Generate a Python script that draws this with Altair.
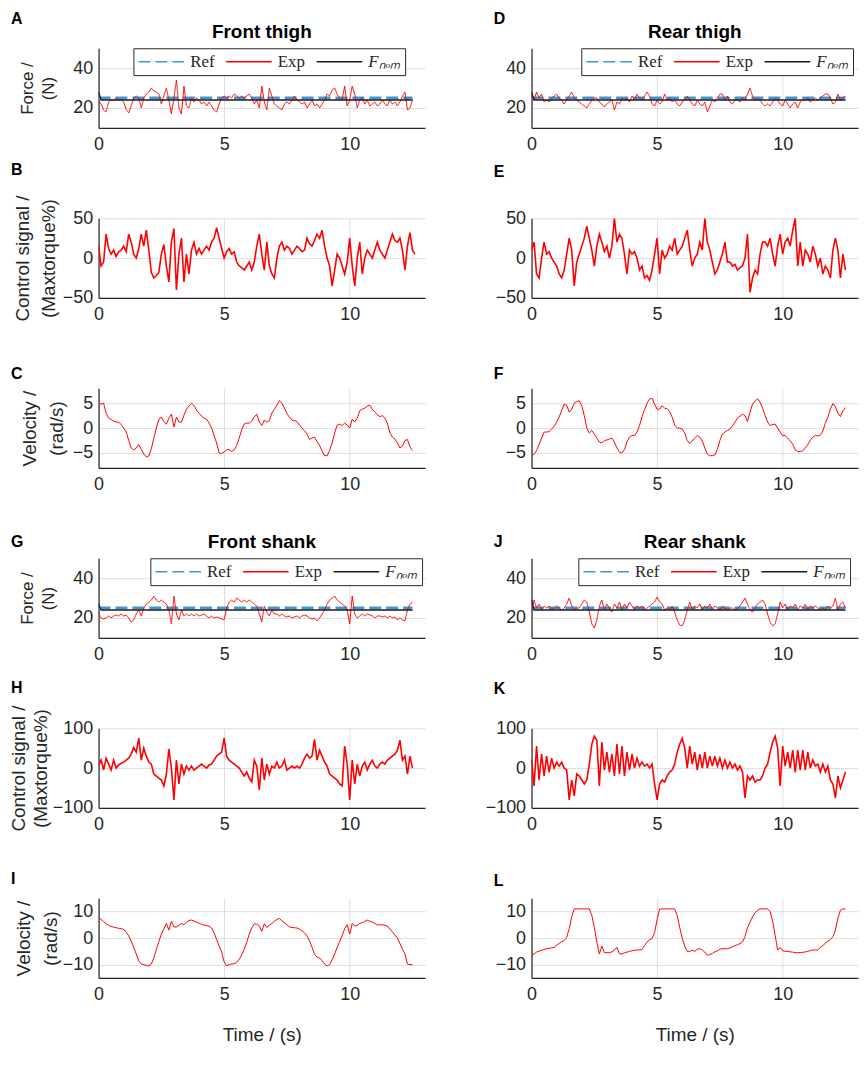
import altair as alt
import pandas as pd

DT = 0.1
XTICKS = [0, 5, 10]
FNOM = "F\u2099\u2092\u2098"
SERIES = ["Ref", "Exp", FNOM]
RED = "#ff0000"
BLUE = "#3f97d8"
BLACK = "#1a1a1a"
INK = "#262626"

A_EXP = [24, 22, 19, 18, 23, 24, 24, 25, 24, 24,
         23, 19, 17.5, 21, 25, 26, 25, 20, 25, 27,
         28, 30, 28.5, 28, 27, 22, 26, 30, 24, 17,
         25, 34, 20, 17, 31, 21, 20, 25, 23, 25,
         24, 22, 23, 21, 23, 21, 19, 18, 22, 25,
         26, 25, 26, 25, 27, 26, 25, 26, 25, 26,
         27, 25, 22, 24, 20, 31, 23, 19, 30, 26,
         22, 21, 20, 19, 22, 23, 22, 24, 26, 24,
         23, 22, 23, 20, 22, 24, 21, 22, 20, 22,
         24, 27, 26, 29, 30, 27, 25, 24, 31, 21,
         24, 31, 27, 20, 24, 25, 22, 24, 21, 22,
         23, 21, 22, 24, 22, 21, 24, 22, 23, 21,
         23, 26, 28, 19, 20, 24]

B_CTRL = [15, -10, -5, 30, 12, 5, 10, 2, 8, 10,
          15, 8, 30, 20, 5, 0, 12, 30, 15, 35,
          10, -18, -25, -22, -18, 5, 17, -10, -30, 20,
          37, -40, 5, 25, -30, 5, -20, 10, 20, 5,
          12, 5, 10, 15, 10, 20, 25, 38, 25, 12,
          0, 8, 12, 5, 8, -5, -10, -12, -15, -10,
          -5, -15, -5, 15, 30, 5, -15, 20, -10, -20,
          -25, 0, 15, 20, 10, 15, 12, 5, 10, 15,
          12, 8, 10, 25, 18, 15, 22, 30, 25, 35,
          15, 0, -10, -35, -15, 5, 0, -10, -20, -5,
          25, -10, -35, 0, 20, -20, 0, 10, 5, 0,
          10, 20, 10, 5, 0, 10, 20, 30, 22, 20,
          25, 10, -15, 15, 32, 10, 5]

C_VEL = [5.0, 4.8, 5.0, 3.0, 2.0, 1.7, 1.4, 1.2, 1.2, 0.7,
         0.0, -0.8, -2.5, -4.0, -4.4, -4.0, -3.3, -4.3, -5.2, -5.8,
         -5.6, -4.2, -2.0, 0.0, 1.8, 2.2, 1.3, 0.8, 2.0, 2.8,
         0.2, 2.2, 1.2, 1.2, 2.6, 3.8, 4.4, 5.0, 4.5, 3.6,
         3.0, 2.4, 2.0, 1.8, 1.0, 0.0, -1.5, -3.0, -5.0, -5.1,
         -4.8, -4.4, -4.3, -4.7, -4.4, -3.5, -2.0, -0.3, 0.8, 1.0,
         1.0, 1.4, 2.2, 2.8, 1.2, 0.5, 1.6, 1.2, 1.5, 3.0,
         3.8, 4.6, 5.5, 5.0, 4.0, 2.9, 2.2, 1.6, 1.5, 1.3,
         0.6, 0.0, -0.5, -1.2, -2.3, -2.0, -1.8, -2.7, -3.5, -4.6,
         -5.5, -5.6, -4.5, -3.0, -1.0, 0.6, 0.8, 0.5, 1.0, 0.6,
         0.0, 1.8, 1.2, 2.0, 3.5, 3.8, 4.0, 4.4, 4.6, 3.8,
         3.2, 2.7, 2.3, 2.5, 2.0, 1.0, -1.0, -1.8, -2.2, -3.0,
         -4.0, -3.6, -2.5, -2.3, -3.8, -4.5]

D_EXP = [26, 24, 28, 25, 27, 23, 24, 23, 25, 26,
         27, 25, 24, 22, 24, 26, 28, 25, 24, 23,
         22, 21, 20, 22, 24, 25, 25, 23, 22, 20.5,
         22, 23, 24, 19, 23, 22, 25, 24, 25, 23,
         26, 24, 27, 25, 24, 26, 28, 26, 22, 21,
         24, 22, 23, 27, 24, 25, 23, 24, 22, 21,
         23, 24, 26, 24, 22, 21, 24, 22, 21, 23,
         18, 21, 24, 23, 25, 27, 27, 24, 26, 23,
         22, 24, 24, 23, 25, 24, 27, 30, 26, 24,
         25, 24, 22, 21, 22, 21, 23, 25, 24, 22,
         21, 24, 22, 20, 22, 23, 20, 23, 24, 24,
         25, 23, 24, 25, 24, 25, 26, 27, 27, 25,
         22, 23, 27, 24, 25, 26]

E_CTRL = [10, 20, -20, -25, 0, 20, 5, 8, 0, -5,
          -10, -20, -25, -15, 5, 25, 10, -35, -5, 5,
          15, 25, 40, 25, 10, -10, 15, 30, 20, 8,
          15, 0, 15, 50, 20, 30, 25, 5, -20, 10,
          5, 8, 0, -15, -10, -25, -22, -28, -15, 5,
          25, -20, 10, 0, 5, 15, 10, 25, 5, 10,
          15, 25, 35, 10, -10, 0, 5, 20, 10, 50,
          20, 10, -5, -20, -15, -5, 5, 20, -5, -5,
          -10, -8, -15, -12, -10, 0, 30, -43, -25, -15,
          -20, 5, 20, 20, 15, 25, 5, -10, 15, 30,
          5, 20, 25, 15, 35, 50, -10, 20, -10, 10,
          5, -5, 15, 5, -10, 0, -20, -10, -15, -25,
          10, 25, 10, -25, 5, -15]

F_VEL = [-5.5, -5.3, -4.5, -3.3, -2.0, -0.8, -0.8, -0.7, -0.2, 0.3,
         1.2, 2.2, 3.5, 4.8, 4.6, 3.2, 3.8, 5.0, 5.3, 5.5,
         4.5, 2.5, 0.0, -1.0, -0.5, -1.2, -2.0, -2.8, -3.0, -2.5,
         -2.4, -2.2, -2.0, -2.8, -4.0, -4.8, -5.0, -4.3, -2.8, -1.8,
         -1.5, -1.5, -0.8, 0.5, 2.3, 3.7, 5.0, 5.8, 6.0, 4.8,
         3.8, 3.8, 4.5, 4.0, 3.9, 3.3, 2.2, 0.6, 0.0, 0.0,
         -0.2, -1.0, -2.5, -3.1, -2.6, -2.0, -1.5, -1.8, -2.6, -4.0,
         -5.2, -5.6, -5.5, -5.4, -4.3, -2.5, -1.2, -0.8, -0.5, -0.2,
         0.4, 1.2, 2.0, 2.4, 2.8, 2.5, 1.3, 3.2, 4.8, 5.4,
         5.9, 5.2, 4.0, 2.5, 1.2, 0.5, 0.7, 0.8, 0.0, -0.8,
         -1.5, -1.5, -2.0, -2.6, -3.2, -4.4, -4.7, -4.7, -4.6, -4.0,
         -3.3, -2.5, -1.8, -1.5, -1.6, -1.4, -0.6, 1.0, 2.2, 3.8,
         4.9, 4.3, 3.0, 2.3, 3.5, 4.1]

G_EXP = [22, 20, 19.5, 20, 21, 20, 21, 21.5, 21, 22,
         21, 21.5, 20, 18, 19, 22, 24, 21, 25, 27,
         28, 29, 31, 29, 28, 29, 28, 27, 24, 17,
         31, 22, 19, 24, 21, 22, 21, 22, 21, 22,
         21, 21.5, 22, 21, 20, 21, 20, 20.5, 20, 19.5,
         19, 25, 28, 29, 28, 30, 29, 28, 29, 28,
         29, 28, 27, 26, 22, 18, 26, 23, 21, 24,
         22, 22, 21, 22, 21, 20.5, 21, 20, 20.5, 21,
         20, 21, 21.5, 21, 20, 19.5, 20, 18.5, 20, 22,
         24, 27, 29, 30, 31, 29, 28, 27, 26, 24,
         17, 31, 22, 20, 21, 22, 21, 22, 21.5, 21,
         20, 21, 21, 20.5, 21, 20, 21, 20, 20.5, 19,
         20, 19, 18.5, 24, 27, 28]

H_CTRL = [5, 20, -5, 25, 10, -5, 20, 0, 8, 12,
          15, 20, 25, 35, 52, 40, 75, 20, 50, 30,
          15, 10, -15, -20, -25, -30, -45, -15, 48, 0,
          -80, 20, -40, 10, -15, 5, -5, 5, -5, 0,
          5, 10, 5, 0, 8, 10, 20, 30, 35, 40,
          75, 30, 20, 15, 10, 5, 0, -10, -20, -10,
          -25, -35, 20, 5, -55, 25, -30, 10, -15, 5,
          0, 15, 0, 5, 20, -5, 0, 5, 0, 5,
          0, 10, 25, 35, 25, 30, 72, 20, 45, 30,
          15, 5, -15, -20, -25, -30, -40, -45, 55, 10,
          -80, 20, -40, 10, -20, 5, 15, -5, 10, 20,
          5, 0, 10, 15, 10, 20, 25, 30, 35, 45,
          70, 20, 30, -15, 30, 0]

I_VEL = [7.5, 7.0, 6.2, 5.4, 4.8, 4.4, 4.1, 3.9, 3.7, 3.5,
         3.3, 2.2, 0.8, -1.2, -3.5, -6.0, -8.6, -9.8, -10.0, -10.3,
         -10.5, -9.8, -7.5, -4.3, -1.3, 1.5, 3.5, 5.5, 3.0, 6.3,
         4.2, 4.2, 4.8, 5.5, 5.0, 6.0, 6.6, 6.8, 6.4, 6.0,
         5.6, 5.2, 4.9, 4.7, 4.5, 3.8, 2.0, -0.5, -3.0, -5.2,
         -9.0, -10.5, -10.0, -9.8, -9.6, -9.2, -8.0, -6.3, -4.2, -1.5,
         1.5, 3.8, 5.4, 5.2, 4.6, 2.5, 5.4, 4.0, 4.8, 5.5,
         6.3, 7.0, 7.4, 6.5, 5.8, 5.0, 4.2, 4.0, 3.9, 3.8,
         3.4, 2.8, 2.0, 0.8, -1.0, -3.5, -6.0, -7.2, -7.5, -8.5,
         -9.8, -10.5, -10.0, -8.2, -6.0, -3.5, -1.3, 1.0, 3.5, 5.0,
         1.5, 5.5, 4.5, 4.8, 5.5, 5.8, 6.2, 6.8, 6.3, 6.0,
         5.5, 5.0, 5.0, 5.0, 4.8, 4.5, 3.4, 2.3, 1.2, 0.0,
         -2.0, -4.2, -6.0, -9.8, -10.0, -10.0]

J_EXP = [23, 29, 25, 27, 24, 26, 25, 26, 24, 25,
         26, 25, 24, 25, 27, 30, 26, 24, 25, 25,
         27, 29, 28, 23, 17, 15, 19, 26, 29, 24,
         27, 25, 23, 27, 25, 28, 24, 27, 25, 28,
         26, 24, 26, 25, 26, 24, 25, 26, 27, 28,
         30.5, 28, 27, 24, 25, 24, 26, 23, 19, 16.5,
         16, 19, 24, 28, 24, 26, 25, 27, 24, 26,
         25, 27, 24, 26, 25, 24, 26, 25, 24, 25,
         25, 24, 25, 26, 28, 30, 27, 24, 23, 25,
         27, 28, 29, 27, 22, 18, 16, 17, 22, 28,
         25, 27, 24, 26, 25, 27, 24, 26, 25, 27,
         24, 26, 25, 26, 25, 24, 25, 24, 26, 25,
         26, 30, 24, 27, 28, 25]

K_CTRL = [20, -45, 55, -30, 35, -20, 30, -10, 25, 0,
          15, 5, 15, 0, -5, -80, -30, -70, -15, -20,
          -30, -40, -30, 10, 60, 80, 70, -45, 65, -5,
          40, -10, 35, -20, 60, -15, 55, -20, 40, -5,
          35, 0, 25, 5, 15, 5, 10, 0, 10, -40,
          -80, -40, -30, -35, -20, -10, -5, 10, 40, 60,
          75, 50, 0, 55, 10, 40, -5, 35, 0, 40,
          0, 30, 5, 30, 5, 25, 0, 20, 0, 15,
          0, 10, -5, 5, -10, -75, -20, -30, -20, -35,
          -30, -30, -20, 0, 10, 40, 65, 80, 50, -45,
          55, 5, 40, 0, 45, -10, 45, -5, 45, -5,
          40, 0, 20, 5, 10, -10, 10, -10, 5, -30,
          -40, -75, -20, -50, -30, -10]

L_VEL = [-6.5, -6.0, -5.3, -4.9, -4.6, -4.3, -4.0, -3.9, -3.7, -3.5,
         -2.7, -2.0, -1.4, -0.9, 0.3, 3.5, 8.0, 11, 11, 11,
         11, 11, 11, 11, 8.5, 4.0, -1.5, -6.0, -3.0, -5.5,
         -5.5, -5.5, -5.2, -4.5, -3.5, -6.0, -6.0, -5.6, -5.3, -5.0,
         -4.8, -4.6, -4.5, -4.5, -4.3, -2.8, -1.5, -0.6, -0.2, 2.0,
         7.0, 11, 11, 11, 11, 11, 11, 11, 8.5, 4.0,
         0.0, -3.0, -5.0, -5.0, -4.6, -5.0, -4.2, -4.0, -4.5, -5.3,
         -6.5, -6.2, -5.8, -5.2, -4.8, -4.2, -4.0, -4.0, -4.0, -3.7,
         -3.3, -2.9, -2.5, -2.1, -1.5, 0.5, 4.0, 6.0, 8.0, 9.5,
         10.5, 11, 11, 11, 11, 10.0, 6.5, 1.0, -4.5, -3.5,
         -4.8, -5.0, -5.0, -5.2, -5.3, -5.5, -5.5, -5.5, -5.4, -5.2,
         -5.0, -4.7, -4.5, -4.5, -4.4, -3.5, -2.8, -2.0, -1.2, -0.5,
         0.5, 3.0, 7.5, 10.5, 11, 11]

REF_T = [0.0, 12.5]
REF_V = [25, 25]
FNOM_T = [0.0, 0.1, 12.5]
A_FNOM = [28, 24, 24]
D_FNOM = [28, 24, 24]
G_FNOM = [27, 24, 24]
J_FNOM = [29, 24, 24]

FORCE_TITLE = ["Force /", "(N)"]
CTRL_TITLE = ["Control signal /", "(Maxtorque%)"]
VEL_TITLE = ["Velocity /", "(rad/s)"]

W, H = 328, 80


def times(vals):
    return [round(i * DT, 2) for i in range(len(vals))]


def panel(exp, ydom, yticks, letter, lx, ly, ytitle=None, tpad=10, tsize=17, tline=20,
          section=None, fnom=None, legend_x=0, xtitle=None, sw=1.0):
    frames = [pd.DataFrame({"t": times(exp), "v": exp, "series": "Exp"})]
    if fnom is not None:
        frames.append(pd.DataFrame({"t": REF_T, "v": REF_V, "series": "Ref"}))
        frames.append(pd.DataFrame({"t": FNOM_T, "v": fnom, "series": FNOM}))
    df = pd.concat(frames, ignore_index=True)

    x_axis = alt.Axis(values=XTICKS, labelFlush=False, grid=True, labelPadding=8,
                      title=xtitle, titleFontSize=19, titlePadding=22)
    y_axis = alt.Axis(values=yticks, labelFlush=False, grid=True, labelPadding=6,
                      title=ytitle, titlePadding=tpad, titleFontSize=tsize,
                      titleLineHeight=tline)
    x = alt.X("t:Q", scale=alt.Scale(domain=[0, 13], nice=False, zero=False), axis=x_axis)
    y = alt.Y("v:Q", scale=alt.Scale(domain=ydom, nice=False, zero=False), axis=y_axis)
    base = alt.Chart(df).encode(x=x, y=y)

    layers = []
    if fnom is not None:
        leg = alt.Legend(orient="none", legendX=legend_x, legendY=0, direction="horizontal",
                         title=None, symbolType="stroke", symbolSize=2100,
                         symbolStrokeWidth=1.5, clipHeight=19,
                         labelFont="Liberation Serif", labelFontSize=17, labelColor=INK,
                         labelFontStyle={"expr": "datum.index == 2 ? 'italic' : 'normal'"},
                         strokeColor=INK, fillColor="white", padding=4,
                         columnPadding=10, labelOffset=5, cornerRadius=0, labelLimit=300)
        color = alt.Color("series:N", scale=alt.Scale(domain=SERIES, range=[BLUE, RED, BLACK]),
                          legend=leg)
        dash = alt.StrokeDash("series:N",
                              scale=alt.Scale(domain=SERIES, range=[[12, 5], [1, 0], [1, 0]]),
                              legend=leg)
        layers.append(base.transform_filter(alt.datum.series == "Ref")
                      .mark_line(strokeWidth=3, clip=True).encode(color=color, strokeDash=dash))
        layers.append(base.transform_filter(alt.datum.series == "Exp")
                      .mark_line(strokeWidth=1, clip=True).encode(color=color, strokeDash=dash))
        layers.append(base.transform_filter(alt.datum.series == FNOM)
                      .mark_line(strokeWidth=1.3, clip=True).encode(color=color, strokeDash=dash))
    else:
        layers.append(base.mark_line(color=RED, strokeWidth=sw, clip=True))

    layers.append(
        alt.Chart(pd.DataFrame({"s": [letter]}))
        .mark_text(font="Liberation Sans", fontSize=16, fontWeight="bold", color="black",
                   align="left", baseline="alphabetic")
        .encode(text="s:N", x=alt.value(lx), y=alt.value(ly))
    )
    if section:
        layers.append(
            alt.Chart(pd.DataFrame({"s": [section]}))
            .mark_text(font="Liberation Sans", fontSize=19, fontWeight="bold", color="black",
                       align="center", baseline="alphabetic")
            .encode(text="s:N", x=alt.value(W / 2), y=alt.value(-10))
        )
    return alt.layer(*layers).properties(width=W, height=H)


LX_L, LX_R = -88, -38
pA = panel(A_EXP, [10, 50], [20, 40], "A", LX_L, -24, FORCE_TITLE, 15, 17, 21,
           "Front thigh", A_FNOM, 35)
pD = panel(D_EXP, [10, 50], [20, 40], "D", LX_R, -24, None, 10, 17, 21,
           "Rear thigh", D_FNOM, 50)
pB = panel(B_CTRL, [-50, 50], [-50, 0, 50], "B", LX_L, -43, CTRL_TITLE, 4, 19, 26, sw=1.6)
pE = panel(E_CTRL, [-50, 50], [-50, 0, 50], "E", LX_R, -41, None, 10, 19, 26, sw=1.6)
pC = panel(C_VEL, [-8, 8], [-5, 0, 5], "C", LX_L, -9, VEL_TITLE, 6, 19, 27)
pF = panel(F_VEL, [-8, 8], [-5, 0, 5], "F", LX_R, -9, None, 10, 19, 27)
pG = panel(G_EXP, [10, 50], [20, 40], "G", LX_L, -11, FORCE_TITLE, 15, 17, 21,
           "Front shank", G_FNOM, 52)
pJ = panel(J_EXP, [10, 50], [20, 40], "J", LX_R, -11, None, 10, 17, 21,
           "Rear shank", J_FNOM, 47)
pH = panel(H_CTRL, [-100, 100], [-100, 0, 100], "H", LX_L, -35, CTRL_TITLE, 2, 19, 22, sw=1.6)
pK = panel(K_CTRL, [-100, 100], [-100, 0, 100], "K", LX_R, -34, None, 10, 19, 22, sw=1.6)
pI = panel(I_VEL, [-15, 15], [-10, 0, 10], "I", LX_L, -14, VEL_TITLE, 2, 19, 27,
           xtitle="Time / (s)")
pL = panel(L_VEL, [-15, 15], [-10, 0, 10], "L", LX_R, -12, None, 10, 19, 27,
           xtitle="Time / (s)")

chart = (
    alt.concat(pA, pD, pB, pE, pC, pF, pG, pJ, pH, pK, pI, pL,
               columns=2, spacing={"row": 90.8, "column": 107}, bounds="flush")
    .resolve_scale(color="independent", strokeDash="independent")
    .resolve_legend(color="independent", strokeDash="independent")
    .properties(padding={"left": 0, "top": 0, "right": 0, "bottom": 0})
    .configure_view(stroke="transparent")
    .configure_axis(labelFont="Liberation Sans", labelFontSize=18, labelColor=INK,
                    titleFont="Liberation Sans", titleFontWeight="normal",
                    titleColor=INK, domainColor=INK, domainWidth=1.2,
                    gridColor="#dedede", gridWidth=1, ticks=False, tickSize=0)
)

chart.save("out.html", embed_options={"renderer": "svg", "actions": False})
